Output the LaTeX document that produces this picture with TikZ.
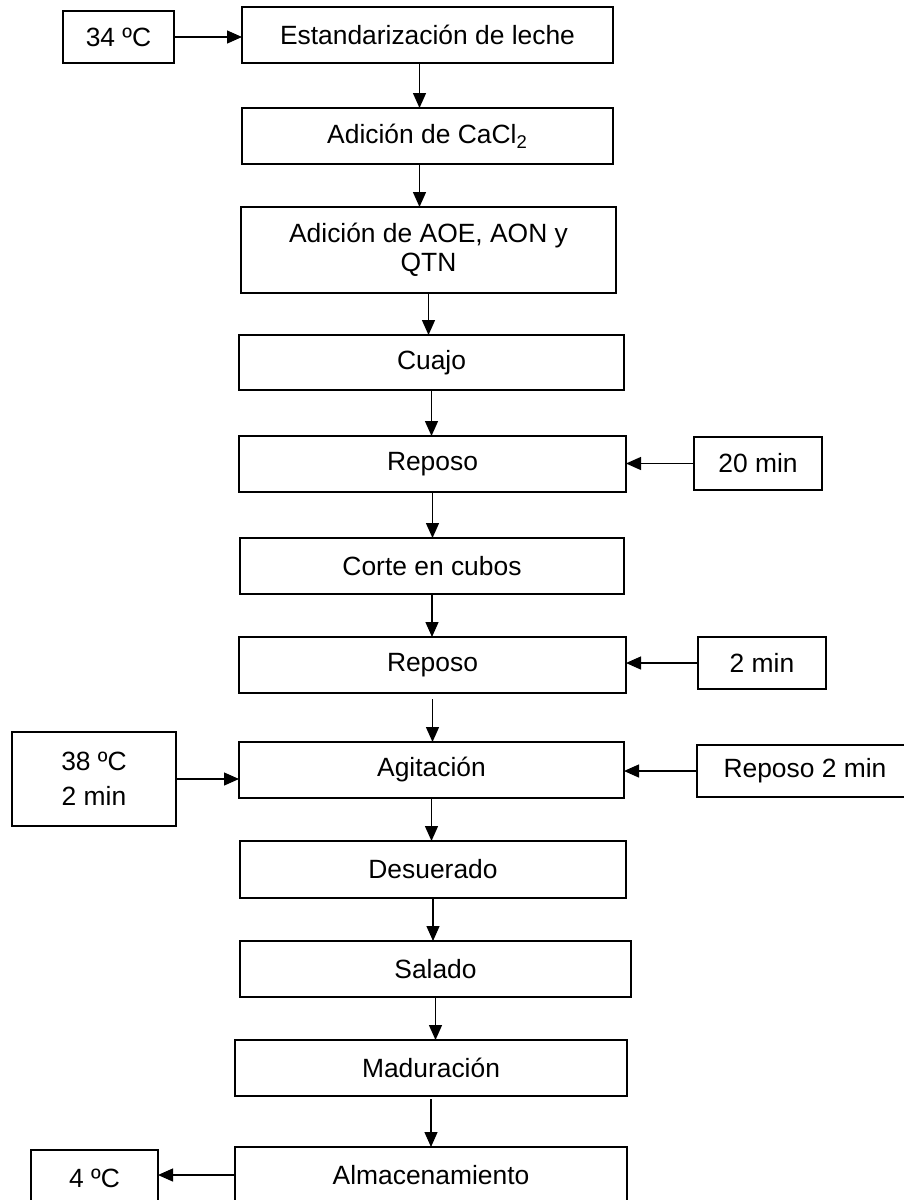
\documentclass[tikz,border=0pt]{standalone}
\usepackage{fontspec}
\setmainfont{Liberation Sans}
\usetikzlibrary{arrows.meta}

\begin{document}
\begin{tikzpicture}[
  x=0.5pt, y=-0.5pt,
  paso/.style={rectangle, draw, line width=0.65pt, inner sep=2pt, outer sep=0pt,
               minimum height=28pt, text centered, align=center,
               font=\fontsize{13.2}{14.5}\selectfont},
  dato/.style={paso, minimum height=26pt},
  arr/.style={-{Triangle[length=7.5pt, width=6.5pt]}, line width=0.65pt},
]
  \useasboundingbox (0,0) rectangle (904,1200);

  \node[paso, minimum width=185.5pt]                   (e1)  at (427.5,35)   {Estandarización de leche};
  \node[paso, minimum width=185.5pt]                   (e2)  at (427.5,136)  {Adición de CaCl\textsubscript{2}};
  \node[paso, minimum width=187.5pt, minimum height=43pt] (e3) at (428.5,250) {Adición de AOE, AON y\\QTN};
  \node[paso, minimum width=192.5pt, minimum height=27.5pt] (e4) at (431.5,362.5) {Cuajo};
  \node[paso, minimum width=193.5pt]                   (e5)  at (432.5,464)  {Reposo};
  \node[paso, minimum width=192pt]                     (e6)  at (432,566)    {Corte en cubos};
  \node[paso, minimum width=193.5pt]                   (e7)  at (432.5,665)  {Reposo};
  \node[paso, minimum width=192.5pt]                   (e8)  at (431.5,770)  {Agitación};
  \node[paso, minimum width=193pt, minimum height=28.5pt] (e9) at (433,869.5) {Desuerado};
  \node[paso, minimum width=195.5pt]                   (e10) at (435.5,969)  {Salado};
  \node[paso, minimum width=196pt]                     (e11) at (431,1068)   {Maduración};
  \node[paso, minimum width=196pt]                     (e12) at (431,1175)   {Almacenamiento};

  \node[dato, minimum width=55.5pt]                    (s1)  at (118.5,37)   {34 ºC};
  \node[dato, minimum width=64pt, minimum height=26.5pt] (s2) at (758,463.5) {20 min};
  \node[dato, minimum width=64pt]                      (s3)  at (762,663)    {2 min};
  \node[dato, minimum width=108pt]                     (s4)  at (805,771)    {Reposo 2 min};
  \node[dato, minimum width=82pt, minimum height=47pt] (s5)  at (94,779)     {38 ºC\\[3pt]2 min};
  \node[dato, minimum width=63.5pt, minimum height=28pt] (s6) at (94.5,1178) {4 ºC};

  \draw[arr] ([xshift=-4pt]e1.south) -- ([xshift=-4pt]e1.south |- e2.north);
  \draw[arr] ([xshift=-4pt]e2.south) -- ([xshift=-4pt]e2.south |- e3.north);
  \draw[arr] (e3.south) -- (e3.south |- e4.north);
  \draw[arr] (e4.south) -- (e4.south |- e5.north);
  \draw[arr] (e5.south) -- (e5.south |- e6.north);
  \draw[arr] (e6.south) -- (e6.south |- e7.north);
  \draw[arr, shorten <=3pt] (e7.south) -- (e7.south |- e8.north);
  \draw[arr] (e8.south) -- (e8.south |- e9.north);
  \draw[arr] (e9.south) -- (e9.south |- e10.north);
  \draw[arr] (e10.south) -- (e10.south |- e11.north);
  \draw[arr, shorten <=1.5pt] (e11.south) -- (e11.south |- e12.north);

  \draw[arr] (s1.east) -- (s1.east -| e1.west);
  \draw[arr] (s2.west) -- (s2.west -| e5.east);
  \draw[arr] (s3.west) -- (s3.west -| e7.east);
  \draw[arr] (s4.west) -- (s4.west -| e8.east);
  \draw[arr] (s5.east) -- (s5.east -| e8.west);
  \draw[arr] (e12.west) -- (e12.west -| s6.east);
\end{tikzpicture}
\end{document}
